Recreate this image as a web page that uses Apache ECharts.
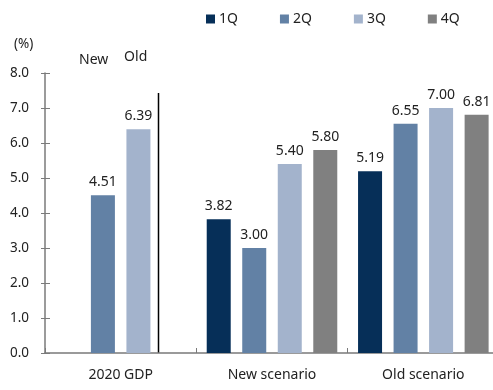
<!DOCTYPE html>
<html>
<head>
<meta charset="utf-8">
<script src="https://cdn.jsdelivr.net/npm/echarts@6/dist/echarts.min.js"></script>
<style>
  html, body { margin: 0; padding: 0; background: #fff; }
  #chart { width: 493px; height: 390px; }
</style>
</head>
<body>
<div id="chart"></div>
<script>
// Quarterly GDP growth under the two scenarios, plus full-year 2020 GDP
const categories = ['2020 GDP', 'New scenario', 'Old scenario'];
const seriesNames = ['1Q', '2Q', '3Q', '4Q'];
const q1 = [null, 3.82, 5.19];
const q2 = [4.51, 3.00, 6.55];
const q3 = [6.39, 5.40, 7.00];
const q4 = [null, 5.80, 6.81];
const yTicks = [0, 1, 2, 3, 4, 5, 6, 7, 8];
const colors = ['#062f58', '#6281a5', '#a3b3cc', '#808080'];

const FONT = 'Noto Sans';
const TEXT = '#222';

const chart = echarts.init(document.getElementById('chart'), null, { renderer: 'canvas' });

function barSeries(name, data, color) {
  return {
    name: name,
    type: 'bar',
    data: data,
    barWidth: 24,
    barGap: '48%',
    itemStyle: { color: color },
    label: {
      show: true,
      position: 'top',
      distance: 6,
      color: TEXT,
      fontFamily: FONT,
      fontSize: 14,
      formatter: p => (p.value == null ? '' : Number(p.value).toFixed(2))
    }
  };
}

const option = {
  animation: false,
  textStyle: { fontFamily: FONT },
  legend: {
    data: seriesNames,
    top: 7,
    left: 201,
    itemWidth: 9,
    itemHeight: 9,
    itemGap: 42,
    icon: 'rect',
    textStyle: { fontFamily: FONT, fontSize: 14, color: TEXT, padding: [0, 0, 0, -1] }
  },
  // plot area runs slightly past the right edge of the canvas
  grid: { left: 45, width: 454, top: 73, bottom: 37, outerBoundsMode: 'none', containLabel: false },
  xAxis: {
    type: 'category',
    data: categories,
    axisLine: { lineStyle: { color: '#7a7a7a', width: 1.5 } },
    axisTick: { show: true, inside: true, length: 5, lineStyle: { color: '#7a7a7a' } },
    axisLabel: { color: TEXT, fontFamily: FONT, fontSize: 14, margin: 15 }
  },
  yAxis: [
    {
      type: 'value',
      min: yTicks[0],
      max: yTicks[yTicks.length - 1],
      interval: 1,
      splitLine: { show: false },
      axisLine: { show: true, lineStyle: { color: '#7a7a7a', width: 1.5 } },
      axisTick: { show: true, length: 4, lineStyle: { color: '#7a7a7a' } },
      axisLabel: {
        color: TEXT, fontFamily: FONT, fontSize: 13.5, margin: 16,
        formatter: v => v.toFixed(1)
      }
    },
    {
      // inner half of the cross ticks on the value axis
      type: 'value',
      position: 'left',
      min: yTicks[0],
      max: yTicks[yTicks.length - 1],
      interval: 1,
      splitLine: { show: false },
      axisLine: { show: false },
      axisTick: { show: true, inside: true, length: 5, lineStyle: { color: '#7a7a7a' } },
      axisLabel: { show: false }
    }
  ],
  series: [
    barSeries(seriesNames[0], q1, colors[0]),
    barSeries(seriesNames[1], q2, colors[1]),
    barSeries(seriesNames[2], q3, colors[2]),
    barSeries(seriesNames[3], q4, colors[3])
  ]
};

chart.setOption(option);

// Annotations placed from the axis scales: unit label, New/Old tags, divider
function placeAnnotations() {
  const gdpCenter = chart.convertToPixel({ xAxisIndex: 0 }, categories[0]);
  const nextCenter = chart.convertToPixel({ xAxisIndex: 0 }, categories[1]);
  const band = nextCenter - gdpCenter;
  const yTop = chart.convertToPixel({ yAxisIndex: 0 }, yTicks[yTicks.length - 1]);
  const yZero = chart.convertToPixel({ yAxisIndex: 0 }, yTicks[0]);
  const axisX = gdpCenter - band / 2;
  const dividerX = gdpCenter + band * 0.25;

  chart.setOption({
    graphic: [
      {
        type: 'text', left: axisX - 31, top: yTop - 36,
        style: { text: '(%)', fill: TEXT, font: '13.5px "' + FONT + '"' }
      },
      {
        type: 'text', x: gdpCenter - 27, y: yTop - 13,
        style: { text: 'New', fill: TEXT, font: '14px "' + FONT + '"', align: 'center', verticalAlign: 'middle' }
      },
      {
        type: 'text', x: gdpCenter + 15, y: yTop - 16,
        style: { text: 'Old', fill: TEXT, font: '14px "' + FONT + '"', align: 'center', verticalAlign: 'middle' }
      },
      {
        type: 'line',
        shape: { x1: dividerX, y1: yTop + 20, x2: dividerX, y2: yZero },
        style: { stroke: '#000', lineWidth: 1.5 }
      }
    ]
  });
}
placeAnnotations();
</script>
</body>
</html>
